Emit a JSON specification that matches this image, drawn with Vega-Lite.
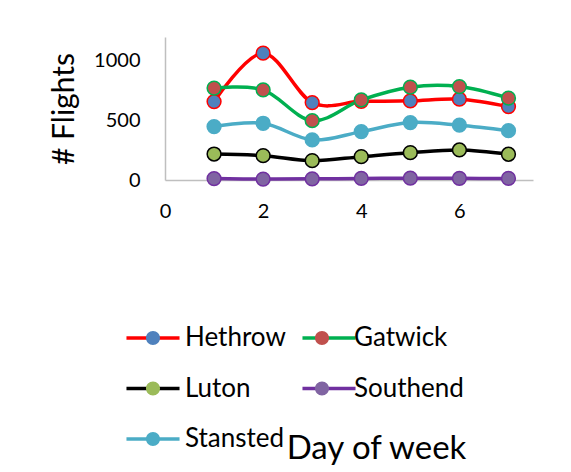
{
  "$schema": "https://vega.github.io/schema/vega-lite/v6.json",
  "width": 368,
  "height": 143,
  "autosize": "none",
  "padding": {"left": 165, "top": 37, "right": 38, "bottom": 292},
  "background": "white",
  "config": {"font": "Lato", "view": {"stroke": null}},
  "data": {
    "values": [
      {"day": 1, "airport": "Hethrow", "flights": 658},
      {"day": 2, "airport": "Hethrow", "flights": 1064},
      {"day": 3, "airport": "Hethrow", "flights": 650},
      {"day": 4, "airport": "Hethrow", "flights": 660},
      {"day": 5, "airport": "Hethrow", "flights": 664},
      {"day": 6, "airport": "Hethrow", "flights": 678},
      {"day": 7, "airport": "Hethrow", "flights": 616},
      {"day": 1, "airport": "Gatwick", "flights": 771},
      {"day": 2, "airport": "Gatwick", "flights": 756},
      {"day": 3, "airport": "Gatwick", "flights": 498},
      {"day": 4, "airport": "Gatwick", "flights": 672},
      {"day": 5, "airport": "Gatwick", "flights": 779},
      {"day": 6, "airport": "Gatwick", "flights": 784},
      {"day": 7, "airport": "Gatwick", "flights": 687},
      {"day": 1, "airport": "Luton", "flights": 218},
      {"day": 2, "airport": "Luton", "flights": 204},
      {"day": 3, "airport": "Luton", "flights": 162},
      {"day": 4, "airport": "Luton", "flights": 196},
      {"day": 5, "airport": "Luton", "flights": 229},
      {"day": 6, "airport": "Luton", "flights": 252},
      {"day": 7, "airport": "Luton", "flights": 216},
      {"day": 1, "airport": "Southend", "flights": 12},
      {"day": 2, "airport": "Southend", "flights": 8},
      {"day": 3, "airport": "Southend", "flights": 10},
      {"day": 4, "airport": "Southend", "flights": 13},
      {"day": 5, "airport": "Southend", "flights": 15},
      {"day": 6, "airport": "Southend", "flights": 14},
      {"day": 7, "airport": "Southend", "flights": 13},
      {"day": 1, "airport": "Stansted", "flights": 448},
      {"day": 2, "airport": "Stansted", "flights": 476},
      {"day": 3, "airport": "Stansted", "flights": 336},
      {"day": 4, "airport": "Stansted", "flights": 406},
      {"day": 5, "airport": "Stansted", "flights": 482},
      {"day": 6, "airport": "Stansted", "flights": 460},
      {"day": 7, "airport": "Stansted", "flights": 414}
    ]
  },
  "layer": [
    {
      "mark": {"type": "line", "interpolate": "cardinal", "strokeWidth": 3.5},
      "encoding": {
        "x": {
          "field": "day", "type": "quantitative",
          "scale": {"domain": [0, 7.5], "nice": false, "zero": false},
          "axis": {
            "values": [0, 2, 4, 6], "grid": false, "ticks": false,
            "domainColor": "#BFBFBF", "domainWidth": 1.5,
            "labelFontSize": 20, "labelColor": "black", "labelPadding": 21,
            "labelFlush": false, "labelOverlap": false,
            "title": "Day of week", "titleFontSize": 33, "titleFontWeight": "normal",
            "titleColor": "black", "titleX": 211, "titleY": 278,
            "titleBaseline": "alphabetic", "titleAlign": "center"
          }
        },
        "y": {
          "field": "flights", "type": "quantitative",
          "scale": {"domain": [0, 1200], "nice": false},
          "axis": {
            "values": [0, 500, 1000], "format": "d", "grid": false, "ticks": false,
            "domainColor": "#BFBFBF", "domainWidth": 1.5,
            "labelFontSize": 20, "labelColor": "black", "labelPadding": 25,
            "labelOverlap": false,
            "title": "# Flights", "titleFontSize": 30, "titleFontWeight": "normal",
            "titleColor": "black", "titlePadding": 14
          }
        },
        "stroke": {
          "field": "airport", "type": "nominal", "sort": null,
          "scale": {"range": ["#FF0000", "#00B050", "#000000", "#7030A0", "#4BACC6"]},
          "legend": {
            "title": null, "orient": "none", "legendX": -25, "legendY": 288,
            "direction": "horizontal",
            "columns": 2, "columnPadding": 9, "rowPadding": 24.5, "padding": 0,
            "symbolType": "M-3.79,0L3.79,0", "symbolSize": 196, "symbolStrokeWidth": 3.5,
            "symbolFillColor": "transparent",
            "labelOffset": 19, "labelFontSize": 26, "labelColor": "black", "labelOpacity": 0
          }
        }
      }
    },
    {
      "mark": {"type": "point", "filled": true, "size": 190, "strokeWidth": 1.5, "opacity": 1},
      "encoding": {
        "x": {"field": "day", "type": "quantitative"},
        "y": {"field": "flights", "type": "quantitative"},
        "stroke": {"field": "airport", "type": "nominal", "sort": null},
        "fill": {
          "field": "airport", "type": "nominal",
          "scale": {
            "domain": ["Hethrow", "Gatwick", "Luton", "Southend", "Stansted"],
            "range": ["#4F81BD", "#C0504D", "#9BBB59", "#8064A2", "#4BACC6"]
          },
          "legend": {
            "title": null, "orient": "none", "legendX": -25, "legendY": 288,
            "direction": "horizontal",
            "columns": 2, "columnPadding": 9, "rowPadding": 24.5, "padding": 0,
            "symbolType": "M-3.79,0L-3.79,0M3.79,0L3.79,0M1,0A1,1,0,1,1,-1,0A1,1,0,1,1,1,0Z",
            "symbolSize": 196, "symbolStrokeWidth": 1.5,
            "labelOffset": 19, "labelFontSize": 26, "labelColor": "black",
            "encode": {"symbols": {"update": {"stroke": {"scale": "stroke", "field": "value"}, "strokeWidth": {"value": 1.5}}}}
          }
        }
      }
    }
  ]
}
